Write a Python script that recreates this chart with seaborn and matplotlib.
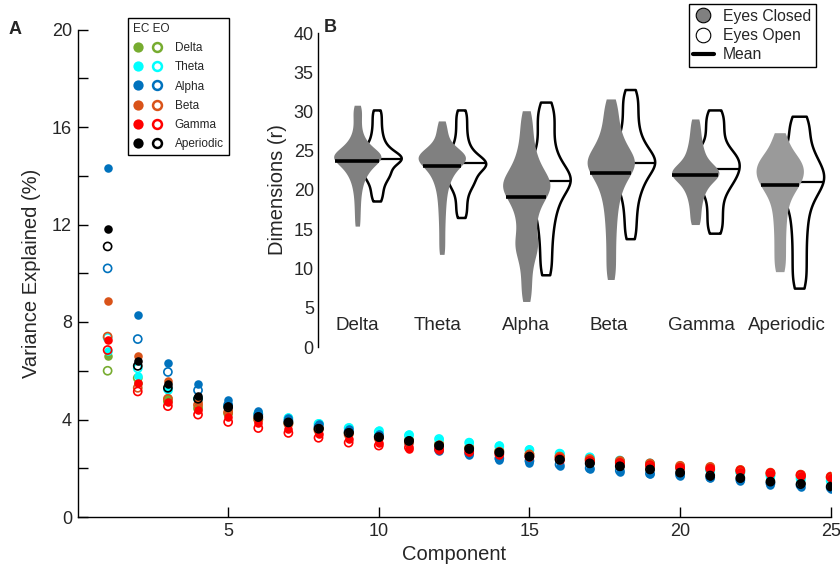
import numpy as np
import pandas as pd
import matplotlib
matplotlib.use("Agg")
import matplotlib.pyplot as plt
import seaborn as sns
from matplotlib.lines import Line2D
from matplotlib.legend_handler import HandlerTuple

# ---------------- data: panel A ----------------
components = list(range(1, 26))
bands = ["Delta", "Theta", "Alpha", "Beta", "Gamma", "Aperiodic"]
band_colors = ["#77AC30", "#00FFFF", "#0072BD", "#D95319", "#FF0000", "#000000"]

delta_ec = [6.6, 5.5, 4.9, 4.5, 4.3, 4.05, 3.9, 3.65, 3.5, 3.35, 3.2, 3.05, 2.9, 2.75, 2.6, 2.5, 2.35, 2.28, 2.15, 2.05, 1.98, 1.88, 1.78, 1.7, 1.62]
delta_eo = [6.0, 5.7, 4.75, 4.45, 4.25, 4.0, 3.85, 3.6, 3.45, 3.3, 3.15, 3.0, 2.85, 2.72, 2.58, 2.48, 2.35, 2.25, 2.12, 2.02, 1.95, 1.85, 1.75, 1.67, 1.6]
theta_ec = [6.8, 5.8, 5.2, 4.9, 4.6, 4.3, 4.1, 3.85, 3.7, 3.55, 3.4, 3.22, 3.08, 2.95, 2.78, 2.62, 2.45, 2.3, 2.2, 2.05, 1.9, 1.8, 1.65, 1.55, 1.45]
theta_eo = [7.35, 6.1, 5.25, 4.85, 4.55, 4.25, 4.05, 3.82, 3.65, 3.5, 3.35, 3.2, 3.05, 2.9, 2.75, 2.6, 2.45, 2.32, 2.2, 2.05, 1.92, 1.82, 1.68, 1.58, 1.48]
alpha_ec = [14.3, 8.3, 6.3, 5.45, 4.8, 4.35, 4.05, 3.8, 3.6, 3.4, 3.1, 2.7, 2.55, 2.35, 2.2, 2.1, 1.95, 1.85, 1.75, 1.68, 1.58, 1.47, 1.33, 1.25, 1.15]
alpha_eo = [10.2, 7.3, 5.95, 5.2, 4.6, 4.2, 3.95, 3.7, 3.5, 3.3, 3.05, 2.75, 2.6, 2.4, 2.3, 2.15, 2.0, 1.9, 1.78, 1.72, 1.62, 1.52, 1.38, 1.3, 1.2]
beta_ec = [8.85, 6.6, 5.6, 4.7, 4.4, 4.1, 3.9, 3.65, 3.45, 3.3, 3.12, 2.98, 2.85, 2.72, 2.6, 2.5, 2.4, 2.32, 2.22, 2.12, 2.08, 1.95, 1.85, 1.76, 1.68]
beta_eo = [7.4, 5.3, 4.85, 4.6, 4.3, 4.0, 3.82, 3.55, 3.38, 3.22, 3.05, 2.92, 2.8, 2.68, 2.57, 2.48, 2.38, 2.3, 2.2, 2.1, 2.05, 1.93, 1.82, 1.74, 1.66]
gamma_ec = [7.25, 5.5, 4.7, 4.4, 4.1, 3.85, 3.6, 3.4, 3.2, 3.05, 2.8, 2.75, 2.65, 2.55, 2.45, 2.35, 2.28, 2.2, 2.1, 2.0, 1.95, 1.85, 1.75, 1.68, 1.6]
gamma_eo = [6.85, 5.15, 4.55, 4.2, 3.9, 3.65, 3.45, 3.25, 3.05, 2.93, 2.85, 2.78, 2.68, 2.58, 2.48, 2.4, 2.3, 2.22, 2.12, 2.02, 1.98, 1.9, 1.8, 1.72, 1.64]
aper_ec = [11.8, 6.4, 5.45, 4.95, 4.55, 4.15, 3.9, 3.65, 3.5, 3.3, 3.15, 2.95, 2.8, 2.65, 2.5, 2.38, 2.22, 2.1, 1.98, 1.85, 1.68, 1.62, 1.48, 1.38, 1.27]
aper_eo = [11.1, 6.2, 5.3, 4.85, 4.5, 4.1, 3.88, 3.62, 3.45, 3.28, 3.12, 2.93, 2.8, 2.65, 2.48, 2.35, 2.2, 2.08, 1.95, 1.82, 1.7, 1.6, 1.45, 1.35, 1.25]

var_ec = [delta_ec, theta_ec, alpha_ec, beta_ec, gamma_ec, aper_ec]
var_eo = [delta_eo, theta_eo, alpha_eo, beta_eo, gamma_eo, aper_eo]

# ---------------- data: panel B (dimension samples) ----------------
dim_delta_ec = [15.4, 16.6, 17.7, 18.7, 19.6, 20.3,
                20.9, 21.4, 21.8, 22.1, 22.4, 22.7, 22.9, 23.1, 23.3, 23.5, 23.6, 23.8, 23.9, 24.0, 24.1,
                24.2, 24.3, 24.4, 24.5, 24.6, 24.7, 24.8, 25.0, 25.2, 25.4, 25.6, 25.9, 26.2, 26.6,
                27.1, 27.8, 28.6, 29.4, 30.1, 30.8]
dim_delta_eo = [18.6, 19.3, 19.9, 20.5,
                21.0, 21.4, 21.7, 22.0, 22.2, 22.4, 22.7, 23.0, 23.3, 23.5, 23.7, 23.8, 23.9, 24.0, 24.1,
                24.2, 24.3, 24.4, 24.6, 24.8, 25.0, 25.3, 25.6, 26.0,
                26.5, 27.1, 27.8, 28.6, 29.4, 30.2]
dim_theta_ec = [11.8, 13.0, 14.2, 15.4, 16.5, 17.5, 18.4, 19.2, 19.9,
                20.5, 21.0, 21.4, 21.8, 22.1, 22.4, 22.7, 22.9, 23.1, 23.3, 23.5, 23.7, 23.8, 23.9, 24.0,
                24.1, 24.2, 24.3, 24.4, 24.5, 24.6, 24.7, 24.9, 25.1, 25.4, 25.7,
                26.2, 26.8, 27.4, 28.1, 28.8]
dim_theta_eo = [16.5, 17.3, 18.1, 18.9, 19.6,
                20.2, 20.6, 20.9, 21.2, 21.5, 21.8, 22.1, 22.4, 22.7, 22.9, 23.1, 23.2, 23.3, 23.4, 23.5,
                23.6, 23.8, 24.0, 24.2, 24.5, 24.8, 25.2,
                25.7, 26.3, 27.0, 27.8, 28.6, 29.4, 30.2]
dim_alpha_ec = [5.8, 7.0, 8.2, 9.4, 10.5, 11.4, 12.1, 12.6, 13.0, 13.4, 13.9, 14.6,
                15.3, 16.0, 16.6, 17.2, 17.7, 18.2, 18.6, 19.0, 19.3, 19.6, 19.9, 20.1, 20.3, 20.5, 20.7,
                20.9, 21.1, 21.3, 21.6, 21.9, 22.2, 22.6, 23.0, 23.5, 24.0, 24.6,
                25.3, 26.1, 27.0, 28.0, 29.0, 30.1]
dim_alpha_eo = [9.2, 10.4, 11.6, 12.8, 13.9, 14.9, 15.8, 16.6,
                17.3, 17.9, 18.5, 19.0, 19.4, 19.8, 20.2, 20.5, 20.8, 21.0, 21.2, 21.4, 21.6, 21.8, 22.1,
                22.4, 22.7, 23.1, 23.5, 24.0, 24.6,
                25.3, 26.1, 27.0, 27.9, 28.7, 29.5, 30.3, 31.2]
dim_beta_ec = [8.6, 9.9, 11.2, 12.5, 13.8, 15.0, 16.1, 17.1, 18.0,
               18.8, 19.5, 20.1, 20.6, 21.1, 21.5, 21.9, 22.2, 22.5, 22.8, 23.0, 23.2, 23.4, 23.6, 23.8,
               24.0, 24.2, 24.5, 24.8, 25.1, 25.5, 25.9, 26.4, 26.9,
               27.5, 28.2, 29.0, 29.8, 30.7, 31.6]
dim_beta_eo = [13.8, 15.0, 16.2, 17.3, 18.3,
               19.2, 19.9, 20.5, 21.0, 21.5, 21.9, 22.3, 22.6, 22.9, 23.2, 23.4, 23.6, 23.8, 24.0, 24.3,
               24.6, 24.9, 25.3, 25.7, 26.2, 26.8,
               27.5, 28.3, 29.2, 30.1, 31.0, 31.9, 32.8]
dim_gamma_ec = [15.6, 16.5, 17.4, 18.2, 18.9,
                19.5, 20.0, 20.4, 20.8, 21.1, 21.4, 21.6, 21.8, 22.0, 22.1, 22.2, 22.4, 22.6, 22.8, 23.0,
                23.3, 23.6, 24.0, 24.5, 25.0,
                25.6, 26.3, 27.1, 28.0, 29.05]
dim_gamma_eo = [14.5, 15.5, 16.5, 17.5, 18.5, 19.4,
                20.1, 20.6, 21.0, 21.4, 21.8, 22.1, 22.4, 22.7, 23.0, 23.3, 23.6, 23.9, 24.2, 24.5, 24.8,
                25.3, 26.0, 26.8, 27.7, 28.5, 29.4, 30.2]
dim_aper_ec = [9.6, 10.9, 12.2, 13.5, 14.8, 16.0, 17.1, 18.1, 18.9,
               19.6, 20.1, 20.5, 20.9, 21.2, 21.5, 21.8, 22.1, 22.4, 22.7, 23.0, 23.3, 23.6, 23.9, 24.2,
               24.7, 25.4, 26.3, 27.3]
dim_aper_eo = [7.5, 8.8, 10.1, 11.4, 12.7, 14.0, 15.2, 16.3, 17.3,
               18.2, 18.9, 19.5, 20.0, 20.4, 20.8, 21.1, 21.4, 21.7, 22.0, 22.3, 22.7, 23.1, 23.5, 24.0, 24.5,
               25.2, 26.0, 26.9, 27.9, 28.7, 29.4]

dims_ec = [dim_delta_ec, dim_theta_ec, dim_alpha_ec, dim_beta_ec, dim_gamma_ec, dim_aper_ec]
dims_eo = [dim_delta_eo, dim_theta_eo, dim_alpha_eo, dim_beta_eo, dim_gamma_eo, dim_aper_eo]
mean_ec = [23.7, 23.0, 19.15, 22.2, 21.9, 20.6]
mean_eo = [24.0, 23.4, 21.15, 23.5, 22.7, 21.0]
ec_grays = ["#808080", "#808080", "#808080", "#808080", "#808080", "#9a9a9a"]

# ---------------- style ----------------
sns.set_theme(style="white")
plt.rcParams["font.family"] = ["Liberation Sans", "DejaVu Sans"]

W, H = 840, 568
fig = plt.figure(figsize=(W / 100, H / 100), dpi=100)

def fig_rect(x0, y0, x1, y1):
    return [x0 / W, 1 - y1 / H, (x1 - x0) / W, (y1 - y0) / H]

# ---------------- panel A ----------------
ax = fig.add_axes(fig_rect(77.5, 29.5, 830.7, 517))
for col, ec_vals, eo_vals in zip(band_colors, var_ec, var_eo):
    sns.scatterplot(x=components, y=ec_vals, color=col, s=38, linewidth=0,
                    ax=ax, zorder=3)
    sns.scatterplot(x=components, y=eo_vals, color=col, facecolor="none",
                    edgecolor=col, s=34, linewidth=1.2, ax=ax, zorder=3)

ax.set_xlim(0, 25)
ax.set_ylim(0, 20)
ax.set_xticks([5, 10, 15, 20, 25])
yt = list(range(0, 21, 2))
ax.set_yticks(yt)
ax.set_yticklabels([str(v) if v % 4 == 0 else "" for v in yt])
ax.tick_params(axis="both", direction="in", length=7.5, width=1, color="black",
               labelsize=13, pad=4, left=True, bottom=True)
for s in ["top", "right"]:
    ax.spines[s].set_visible(False)
for s in ["left", "bottom"]:
    ax.spines[s].set_color("black")
    ax.spines[s].set_linewidth(1)
ax.set_xlabel("Component", fontsize=14.5, labelpad=4)
ax.set_ylabel("Variance Explained (%)", fontsize=14.5, labelpad=8)

handles = []
for col in band_colors:
    f = Line2D([], [], linestyle="none", marker="o", markersize=7.4,
               markerfacecolor=col, markeredgecolor=col, markeredgewidth=0)
    o = Line2D([], [], linestyle="none", marker="o", markersize=6.4,
               markerfacecolor="none", markeredgecolor=col, markeredgewidth=1.8)
    handles.append((f, o))
legA = fig.legend(handles, bands, handler_map={tuple: HandlerTuple(ndivide=None, pad=0.9)},
                  loc="upper left", bbox_to_anchor=(128 / W, 1 - 18 / H),
                  borderaxespad=0,
                  title="EC EO", alignment="left", fontsize=8.5, title_fontsize=8.5,
                  frameon=True, fancybox=False, edgecolor="black", framealpha=1,
                  handlelength=2.4, handletextpad=1.1, labelspacing=0.6,
                  borderpad=0.45)
legA.get_frame().set_linewidth(1)

fig.text(15 / W, 1 - 30 / H, "A", fontsize=13, fontweight="bold", ha="center", va="center")

# ---------------- panel B ----------------
axb = fig.add_axes(fig_rect(318, 33, 830, 347))
axb.patch.set_alpha(0)
off = 0.115
eo_df = pd.DataFrame({
    "pos": np.concatenate([[i + off] * len(v) for i, v in enumerate(dims_eo)]),
    "dim": np.concatenate(dims_eo)})
ec_df = pd.DataFrame({
    "pos": np.concatenate([[i - off] * len(v) for i, v in enumerate(dims_ec)]),
    "dim": np.concatenate(dims_ec)})

n0 = len(axb.collections)
sns.violinplot(data=eo_df, x="pos", y="dim", native_scale=True, color="white",
               linecolor="black", linewidth=1.8, inner=None, cut=0, width=0.58,
               bw_adjust=0.5, density_norm="width", saturation=1, ax=axb)
eo_colls = axb.collections[n0:]
n1 = len(axb.collections)
sns.violinplot(data=ec_df, x="pos", y="dim", native_scale=True, color="#808080",
               linecolor="#808080", linewidth=0, inner=None, cut=0, width=0.56,
               bw_adjust=0.5, density_norm="width", saturation=1, ax=axb)
ec_colls = axb.collections[n1:]

def extent_at(coll, y):
    v = coll.get_paths()[0].vertices
    xc = (v[:, 0].max() + v[:, 0].min()) / 2
    right = v[v[:, 0] >= xc]
    order = np.argsort(right[:, 1])
    hw = np.interp(y, right[order, 1], right[order, 0]) - xc
    return xc - hw, xc + hw, xc

def sort_by_center(colls):
    return sorted(colls, key=lambda c: c.get_paths()[0].vertices[:, 0].mean())

eo_colls = sort_by_center(eo_colls)
ec_colls = sort_by_center(ec_colls)
for c in eo_colls:
    c.set_zorder(2)
for i, c in enumerate(ec_colls):
    c.set_zorder(4)
    c.set_facecolor(ec_grays[i])
    c.set_edgecolor(ec_grays[i])
for i in range(len(bands)):
    x0, x1, _ = extent_at(eo_colls[i], mean_eo[i])
    axb.plot([x0, x1], [mean_eo[i]] * 2, color="black", lw=1.6, zorder=3,
             solid_capstyle="butt")
    x0, x1, _ = extent_at(ec_colls[i], mean_ec[i])
    axb.plot([x0, x1], [mean_ec[i]] * 2, color="black", lw=2.6, zorder=5,
             solid_capstyle="butt")

label_dx = [-0.11, -0.16, -0.12, -0.14, -0.04, -0.03]
for i, b in enumerate(bands):
    axb.text(i + label_dx[i], 2.8, b, ha="center", va="center", fontsize=13.5)

axb.set_xlim(-0.58, 5.48)
axb.set_ylim(0, 40)
axb.set_xticks([])
axb.set_yticks(range(0, 41, 5))
axb.tick_params(axis="y", length=0, labelsize=13, pad=3)
axb.set_xlabel("")
axb.set_ylabel("Dimensions (r)", fontsize=14.5, labelpad=5)
for s in ["top", "right", "bottom"]:
    axb.spines[s].set_visible(False)
axb.spines["left"].set_color("black")
axb.spines["left"].set_linewidth(1)

fig.text(330 / W, 1 - 28 / H, "B", fontsize=13, fontweight="bold", ha="center", va="center")

hb = [Line2D([], [], linestyle="none", marker="o", markersize=10.5,
             markerfacecolor="#808080", markeredgecolor="black", markeredgewidth=0.8),
      Line2D([], [], linestyle="none", marker="o", markersize=10.5,
             markerfacecolor="white", markeredgecolor="black", markeredgewidth=0.8),
      Line2D([], [], color="black", lw=3)]
legB = fig.legend(hb, ["Eyes Closed", "Eyes Open", "Mean"], loc="upper right",
                  bbox_to_anchor=(816 / W, 1 - 4 / H), borderaxespad=0,
                  fontsize=11.3, frameon=True,
                  fancybox=False, edgecolor="black", framealpha=1, handlelength=1.3,
                  handletextpad=0.6, labelspacing=0.28, borderpad=0.3)
legB.get_frame().set_linewidth(1)

fig.savefig("out.png", dpi=100)
